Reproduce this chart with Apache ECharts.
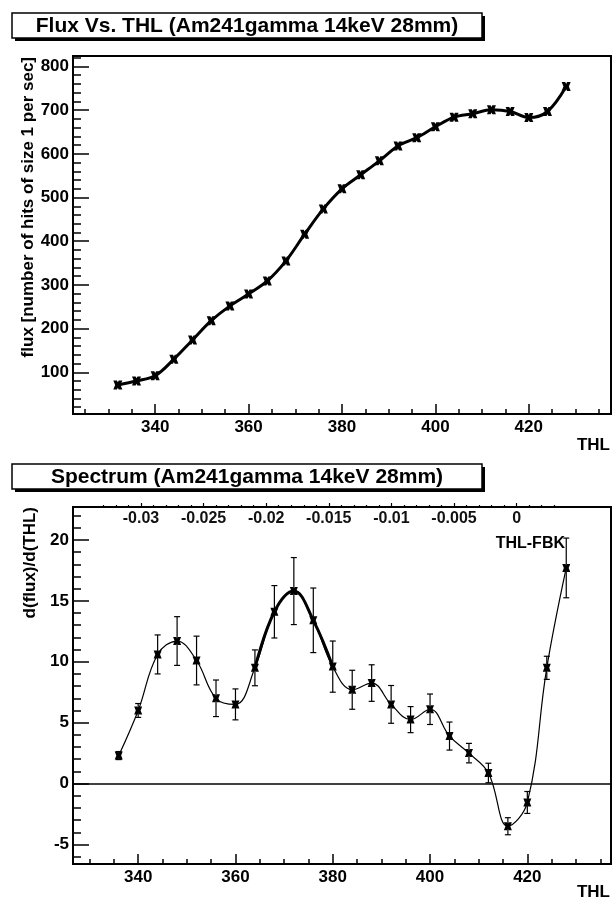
<!DOCTYPE html>
<html><head><meta charset="utf-8">
<script src="https://cdn.jsdelivr.net/npm/echarts@6/dist/echarts.min.js"></script>
<style>html,body{margin:0;padding:0;background:#fff}#c{width:614px;height:901px}</style>
</head><body><div id="c"></div>
<script>
// ---- data: Flux vs THL ----
const fluxThl = [332,336,340,344,348,352,356,360,364,368,372,376,380,384,388,392,396,400,404,408,412,416,420,424,428];
const fluxVal = [71,80,92,130,174,218,252,279,309,355,416,474,520,552,584,618,637,662,684,692,701,697,683,697,754];
// ---- data: Spectrum ----
const specThl = [336,340,344,348,352,356,360,364,368,372,376,380,384,388,392,396,400,404,408,412,416,420,424,428];
const specVal = [2.3,6.0,10.6,11.7,10.1,7.0,6.5,9.5,14.1,15.8,13.4,9.6,7.7,8.25,6.5,5.25,6.1,3.9,2.5,0.87,-3.5,-1.55,9.5,17.7];
const specErr = [0.33,0.57,1.6,2.0,2.0,1.5,1.27,1.47,2.15,2.75,2.65,2.1,1.6,1.5,1.55,1.07,1.25,1.15,0.8,0.8,0.7,0.9,0.95,2.45];
// ---- tick labels ----
const thlMajor = [340,360,380,400,420];
const fluxMajor = [100,200,300,400,500,600,700,800];
const specMajor = [-5,0,5,10,15,20];
const fbkMajor = [-0.03,-0.025,-0.02,-0.015,-0.01,-0.005,0];
// ---- titles ----
const title1 = 'Flux Vs. THL (Am241gamma 14keV 28mm)';
const title2 = 'Spectrum (Am241gamma 14keV 28mm)';
const yTitle1 = 'flux [number of hits of size 1 per sec]';
const yTitle2 = 'd(flux)/d(THL)';
const xTitle = 'THL';
const fbkTitle = 'THL-FBK';

function minorTicks(from, to, step, majors, scale) {
  const out = [];
  for (let k = from; k <= to; k += step) {
    const v = scale ? k / scale : k;
    if (!majors.some(m => Math.abs(m - v) < 1e-9)) out.push(v);
  }
  return out;
}
const thlMinor = minorTicks(320, 440, 5, thlMajor);
const fluxMinor = minorTicks(20, 820, 20, fluxMajor);
const specMinor = minorTicks(-6, 22, 1, specMajor);
const fbkMinor = minorTicks(-33, 3, 1, fbkMajor, 1000);

const FONT = '"Liberation Sans", Arial, Helvetica, sans-serif';
const lab = {fontSize:17, fontWeight:'bold', fontFamily:FONT, color:'#000'};
const XMARK = 'path://M0,0 L4,0 L5,2 L6,0 L10,0 L8,5 L10,10 L6,10 L5,8 L4,10 L0,10 L2,5Z';

function mainX(grid, min, max) {
  return {type:'value', gridIndex:grid, position:'bottom', min:min, max:max,
    axisLine:{show:true, onZero:false, lineStyle:{color:'#000', width:2}},
    axisTick:{show:true, inside:true, length:10, customValues:thlMajor, lineStyle:{color:'#000', width:1.5}},
    axisLabel:Object.assign({show:true, customValues:thlMajor, margin:5}, lab),
    splitLine:{show:false}};
}
function minorX(grid, min, max) {
  return {type:'value', gridIndex:grid, position:'bottom', min:min, max:max,
    axisLine:{show:false, onZero:false},
    axisTick:{show:true, inside:true, length:5, customValues:thlMinor, lineStyle:{color:'#000', width:1.5}},
    axisLabel:{show:false}, splitLine:{show:false}};
}
function mainY(grid, min, max, ticks) {
  return {type:'value', gridIndex:grid, position:'left', min:min, max:max,
    axisLine:{show:true, onZero:false, lineStyle:{color:'#000', width:2}},
    axisTick:{show:true, inside:true, length:16, customValues:ticks, lineStyle:{color:'#000', width:1.5}},
    axisLabel:Object.assign({show:true, customValues:ticks, margin:4}, lab),
    splitLine:{show:false}};
}
function minorY(grid, min, max, ticks) {
  return {type:'value', gridIndex:grid, position:'left', min:min, max:max,
    axisLine:{show:false, onZero:false},
    axisTick:{show:true, inside:true, length:8, customValues:ticks, lineStyle:{color:'#000', width:1.5}},
    axisLabel:{show:false}, splitLine:{show:false}};
}

function titleBox(y, text) {
  return {type:'group', children:[
    {type:'rect', shape:{x:15, y:y+3, width:470, height:25}, style:{fill:'#000'}},
    {type:'rect', shape:{x:12, y:y, width:470, height:25}, style:{fill:'#fff', stroke:'#000', lineWidth:1.5}},
    {type:'text', x:247, y:y+13, style:{text:text, font:'bold 21px ' + FONT, fill:'#000',
      textAlign:'center', textVerticalAlign:'middle', align:'center', verticalAlign:'middle'}}
  ]};
}
function txt(x, y, text, align, rot, size) {
  return {type:'text', x:x, y:y, rotation:rot || 0, style:{text:text, font:'bold ' + (size||17) + 'px ' + FONT, fill:'#000',
    textAlign:align, textVerticalAlign:'middle', align:align, verticalAlign:'middle'}};
}

const chart = echarts.init(document.getElementById('c'));
chart.setOption({
  animation:false,
  backgroundColor:'#fff',
  grid:[
    {left:73, top:56, width:538, height:358, show:true, borderColor:'#000', borderWidth:2},
    {left:73, top:507, width:538, height:357, show:true, borderColor:'#000', borderWidth:2}
  ],
  xAxis:[
    mainX(0, 322.4, 437.6),
    minorX(0, 322.4, 437.6),
    mainX(1, 326.6, 437.2),
    minorX(1, 326.6, 437.2),
    {type:'value', gridIndex:1, position:'top', min:-0.03543, max:0.00754,
      axisLine:{show:false, onZero:false},
      axisTick:{show:true, inside:false, length:4, customValues:fbkMajor, lineStyle:{color:'#000', width:1.2}},
      axisLabel:Object.assign({show:true, inside:true, customValues:fbkMajor, margin:4}, lab, {fontSize:16, color:'#111'}),
      splitLine:{show:false}},
    {type:'value', gridIndex:1, position:'top', min:-0.03543, max:0.00754,
      axisLine:{show:false, onZero:false},
      axisTick:{show:true, inside:false, length:2, customValues:fbkMinor, lineStyle:{color:'#000', width:1.2}},
      axisLabel:{show:false}, splitLine:{show:false}}
  ],
  yAxis:[
    mainY(0, 4.5, 824, fluxMajor),
    minorY(0, 4.5, 824, fluxMinor),
    mainY(1, -6.6, 22.7, specMajor),
    minorY(1, -6.6, 22.7, specMinor)
  ],
  series:[
    {type:'line', xAxisIndex:0, yAxisIndex:0, data:fluxThl.map((x,i)=>[x, fluxVal[i]]),
      smooth:0.35, symbol:XMARK, symbolSize:9, itemStyle:{color:'#000'},
      lineStyle:{color:'#000', width:3}, z:3},
    {type:'custom', xAxisIndex:2, yAxisIndex:2,
      data:specThl.map((x,i)=>[x, specVal[i], specErr[i]]),
      encode:{x:0, y:1},
      renderItem:function(params, api){
        const x = api.value(0), y = api.value(1), e = api.value(2);
        const a = api.coord([x, y + e]), b = api.coord([x, y - e]);
        const st = {stroke:'#000', lineWidth:1.2};
        return {type:'group', children:[
          {type:'line', shape:{x1:a[0], y1:a[1], x2:b[0], y2:b[1]}, style:st},
          {type:'line', shape:{x1:a[0]-3, y1:a[1], x2:a[0]+3, y2:a[1]}, style:st},
          {type:'line', shape:{x1:b[0]-3, y1:b[1], x2:b[0]+3, y2:b[1]}, style:st}
        ]};
      }, z:2},
    {type:'line', xAxisIndex:2, yAxisIndex:2, data:specThl.map((x,i)=>[x, specVal[i]]),
      smooth:0.4, symbol:XMARK, symbolSize:8, itemStyle:{color:'#000'},
      lineStyle:{color:'#000', width:1.2}, z:3,
      markLine:{silent:true, symbol:['none','none'], label:{show:false},
        lineStyle:{color:'#000', width:1.5, type:'solid'}, data:[{yAxis:0}]}},
    {type:'line', xAxisIndex:2, yAxisIndex:2,
      data:specThl.slice(7, 12).map((x,i)=>[x, specVal[i+7]]),
      smooth:0.4, symbol:'none', lineStyle:{color:'#000', width:3}, z:3}
  ],
  graphic:[
    titleBox(13, title1),
    titleBox(464, title2),
    txt(28, 57, yTitle1, 'right', Math.PI/2),
    txt(30, 507, yTitle2, 'right', Math.PI/2),
    txt(610, 445, xTitle, 'right'),
    txt(610, 892, xTitle, 'right'),
    txt(565, 544, fbkTitle, 'right', 0, 16)
  ]
});
</script></body></html>
